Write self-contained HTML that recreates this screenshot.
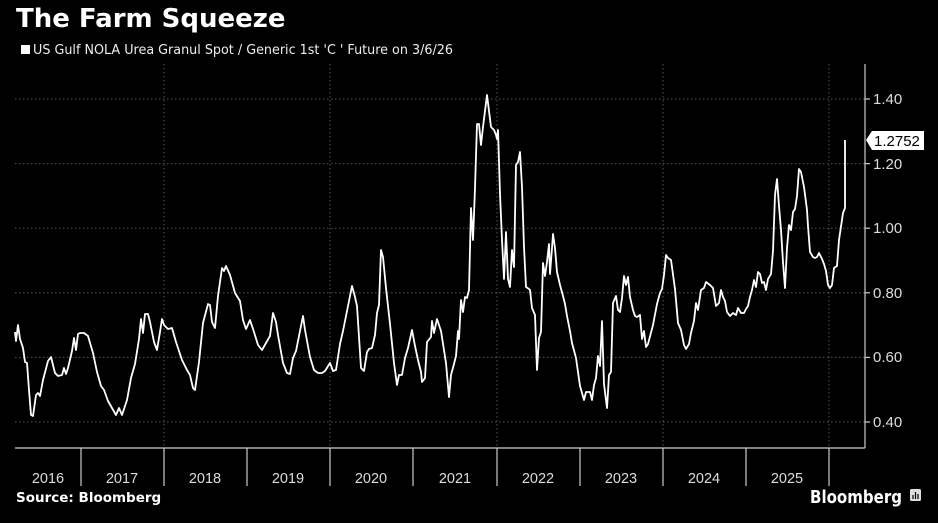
<!DOCTYPE html>
<html><head><meta charset="utf-8"><style>
html,body{margin:0;padding:0;background:#000;}
svg{display:block;}
text{font-family:"Liberation Sans",sans-serif;}
</style></head><body>
<svg width="938" height="523" viewBox="0 0 938 523" xmlns="http://www.w3.org/2000/svg">
<rect width="938" height="523" fill="#000"/>
<text x="16" y="27" fill="#fff" font-size="26" font-weight="bold" style="font-family:'DejaVu Sans',sans-serif">The Farm Squeeze</text>
<rect x="21" y="45" width="9" height="9" fill="#fff"/>
<text x="33" y="54" fill="#eee" font-size="13.3" style="font-family:'DejaVu Sans',sans-serif" textLength="420" lengthAdjust="spacingAndGlyphs">US Gulf NOLA Urea Granul Spot / Generic 1st 'C ' Future on 3/6/26</text>
<g stroke="#555" stroke-width="1" stroke-dasharray="1.5,2.5">
<line x1="15" x2="865" y1="99" y2="99"/><line x1="15" x2="865" y1="163.6" y2="163.6"/>
<line x1="15" x2="865" y1="228.2" y2="228.2"/><line x1="15" x2="865" y1="292.8" y2="292.8"/>
<line x1="15" x2="865" y1="357.4" y2="357.4"/><line x1="15" x2="865" y1="422" y2="422"/>
<line x1="164" x2="164" y1="64" y2="448"/><line x1="330" x2="330" y1="64" y2="448"/>
<line x1="497" x2="497" y1="64" y2="448"/><line x1="663" x2="663" y1="64" y2="448"/>
<line x1="829" x2="829" y1="64" y2="448"/>
</g>
<g stroke="#ccc" stroke-width="1.2" fill="none">
<line x1="15" x2="865" y1="448" y2="448"/>
<line x1="865" x2="865" y1="64" y2="448"/>
<line x1="81" x2="81" y1="448" y2="486"/><line x1="164" x2="164" y1="448" y2="486"/>
<line x1="247" x2="247" y1="448" y2="486"/><line x1="330" x2="330" y1="448" y2="486"/>
<line x1="413" x2="413" y1="448" y2="486"/><line x1="497" x2="497" y1="448" y2="486"/>
<line x1="580" x2="580" y1="448" y2="486"/><line x1="663" x2="663" y1="448" y2="486"/>
<line x1="746" x2="746" y1="448" y2="486"/><line x1="829" x2="829" y1="448" y2="486"/>
<line x1="865" x2="870" y1="99" y2="99"/><line x1="865" x2="870" y1="163.6" y2="163.6"/>
<line x1="865" x2="870" y1="228.2" y2="228.2"/><line x1="865" x2="870" y1="292.8" y2="292.8"/>
<line x1="865" x2="870" y1="357.4" y2="357.4"/><line x1="865" x2="870" y1="422" y2="422"/>
</g>
<g fill="#ddd" font-size="15">
<text x="873" y="104">1.40</text><text x="873" y="169">1.20</text><text x="873" y="233">1.00</text>
<text x="873" y="298">0.80</text><text x="873" y="362">0.60</text><text x="873" y="427">0.40</text>
</g>
<g fill="#ddd" font-size="14.5" text-anchor="middle">
<text x="48" y="483">2016</text><text x="122" y="483">2017</text><text x="205" y="483">2018</text>
<text x="288" y="483">2019</text><text x="371" y="483">2020</text><text x="455" y="483">2021</text>
<text x="538" y="483">2022</text><text x="621" y="483">2023</text><text x="704" y="483">2024</text>
<text x="787" y="483">2025</text>
</g>
<polyline fill="none" stroke="#fff" stroke-width="1.8" stroke-linejoin="round" points="15,332 16,341 18,325 20,339 23,348 25,362 27,363 29,390 31,415 33,416 36,395 38,393 40,396 43,380 48,361 51,357 55,373 58,376 62,375 64,368 66,374 68,368 72,351 74,338 76,350 78,334 80,333 84,333 88,336 93,353 97,372 101,386 104,390 108,401 112,408 116,415 119,408 122,415 127,400 131,378 135,364 139,339 141,319 143,333 145,314 148,314 150,322 154,342 157,350 160,332 162,319 164,325 166,327 168,329 172,328 176,342 182,360 187,370 190,375 193,388 195,390 199,362 203,323 208,304 210,305 212,322 215,328 218,296 222,268 224,271 226,266 230,275 235,293 240,301 243,320 246,329 250,320 254,332 258,345 262,350 266,343 270,336 273,313 276,322 278,335 283,363 287,373 290,374 293,358 296,351 300,331 303,316 305,330 310,357 314,370 318,373 322,373 325,371 330,363 333,371 336,370 340,344 343,331 348,306 352,286 355,297 357,306 361,368 364,371 367,352 369,349 372,348 375,335 377,313 379,305 381,250 383,257 386,288 390,324 394,363 397,385 399,375 402,375 405,358 408,348 412,330 415,346 418,360 421,372 422,382 425,378 427,342 431,337 432,321 434,333 437,319 441,331 446,363 449,397 451,375 454,364 456,356 458,331 459,339 461,300 463,312 465,297 467,298 469,290 471,208 473,240 475,188 477,124 479,124 481,145 483,127 487,95 491,127 494,130 496,135 497,139 498,130 500,194 502,240 504,279 506,232 508,279 510,287 512,250 514,267 516,165 518,162 520,152 522,187 524,247 526,287 529,289 530,290 532,308 535,315 537,370 539,338 541,332 543,263 545,276 547,262 549,244 550,274 552,248 553,234 555,248 557,272 560,285 563,296 565,304 567,316 570,331 572,343 576,358 580,386 584,400 586,392 590,392 592,400 594,385 596,378 598,356 600,366 602,321 604,384 607,408 609,375 611,372 613,303 616,296 618,310 620,312 622,298 624,276 626,285 628,277 630,297 633,310 635,316 637,317 640,315 642,339 644,331 646,347 648,344 653,325 657,304 660,293 662,289 664,275 666,255 668,258 671,260 675,289 678,323 681,330 684,345 686,349 689,344 691,333 694,321 696,303 698,310 701,290 704,288 706,282 710,285 713,288 716,306 719,303 721,290 723,297 725,301 727,312 730,316 733,313 736,315 738,308 741,313 744,313 746,309 748,306 750,297 752,290 754,280 756,287 758,272 760,274 762,283 764,282 766,290 768,279 771,274 773,251 775,195 777,179 779,206 781,230 783,262 785,288 787,248 789,225 791,230 793,212 795,209 797,196 799,169 801,172 804,187 807,210 808,226 810,252 813,257 815,258 817,257 819,253 822,259 824,264 826,271 828,285 830,288 832,285 834,268 837,266 839,240 843,213 845,208 845,140"/>
<path d="M866,140 L872,131 L924,131 L924,150 L872,150 Z" fill="#fff"/>
<text x="874" y="146" fill="#000" font-size="15">1.2752</text>
<text x="16" y="502" fill="#fff" font-size="13.5" font-weight="bold" style="font-family:'DejaVu Sans',sans-serif">Source: Bloomberg</text>
<text x="810" y="503" fill="#fff" font-size="17.5" font-weight="bold" style="font-family:'DejaVu Sans',sans-serif" textLength="92" lengthAdjust="spacingAndGlyphs">Bloomberg</text>
<rect x="910" y="489" width="11" height="12" rx="1.5" fill="#ddd"/>
<g stroke="#000" stroke-width="1.2"><line x1="913" y1="499" x2="913" y2="495"/><line x1="915.5" y1="499" x2="915.5" y2="492"/><line x1="918" y1="499" x2="918" y2="494"/></g>
</svg>
</body></html>
